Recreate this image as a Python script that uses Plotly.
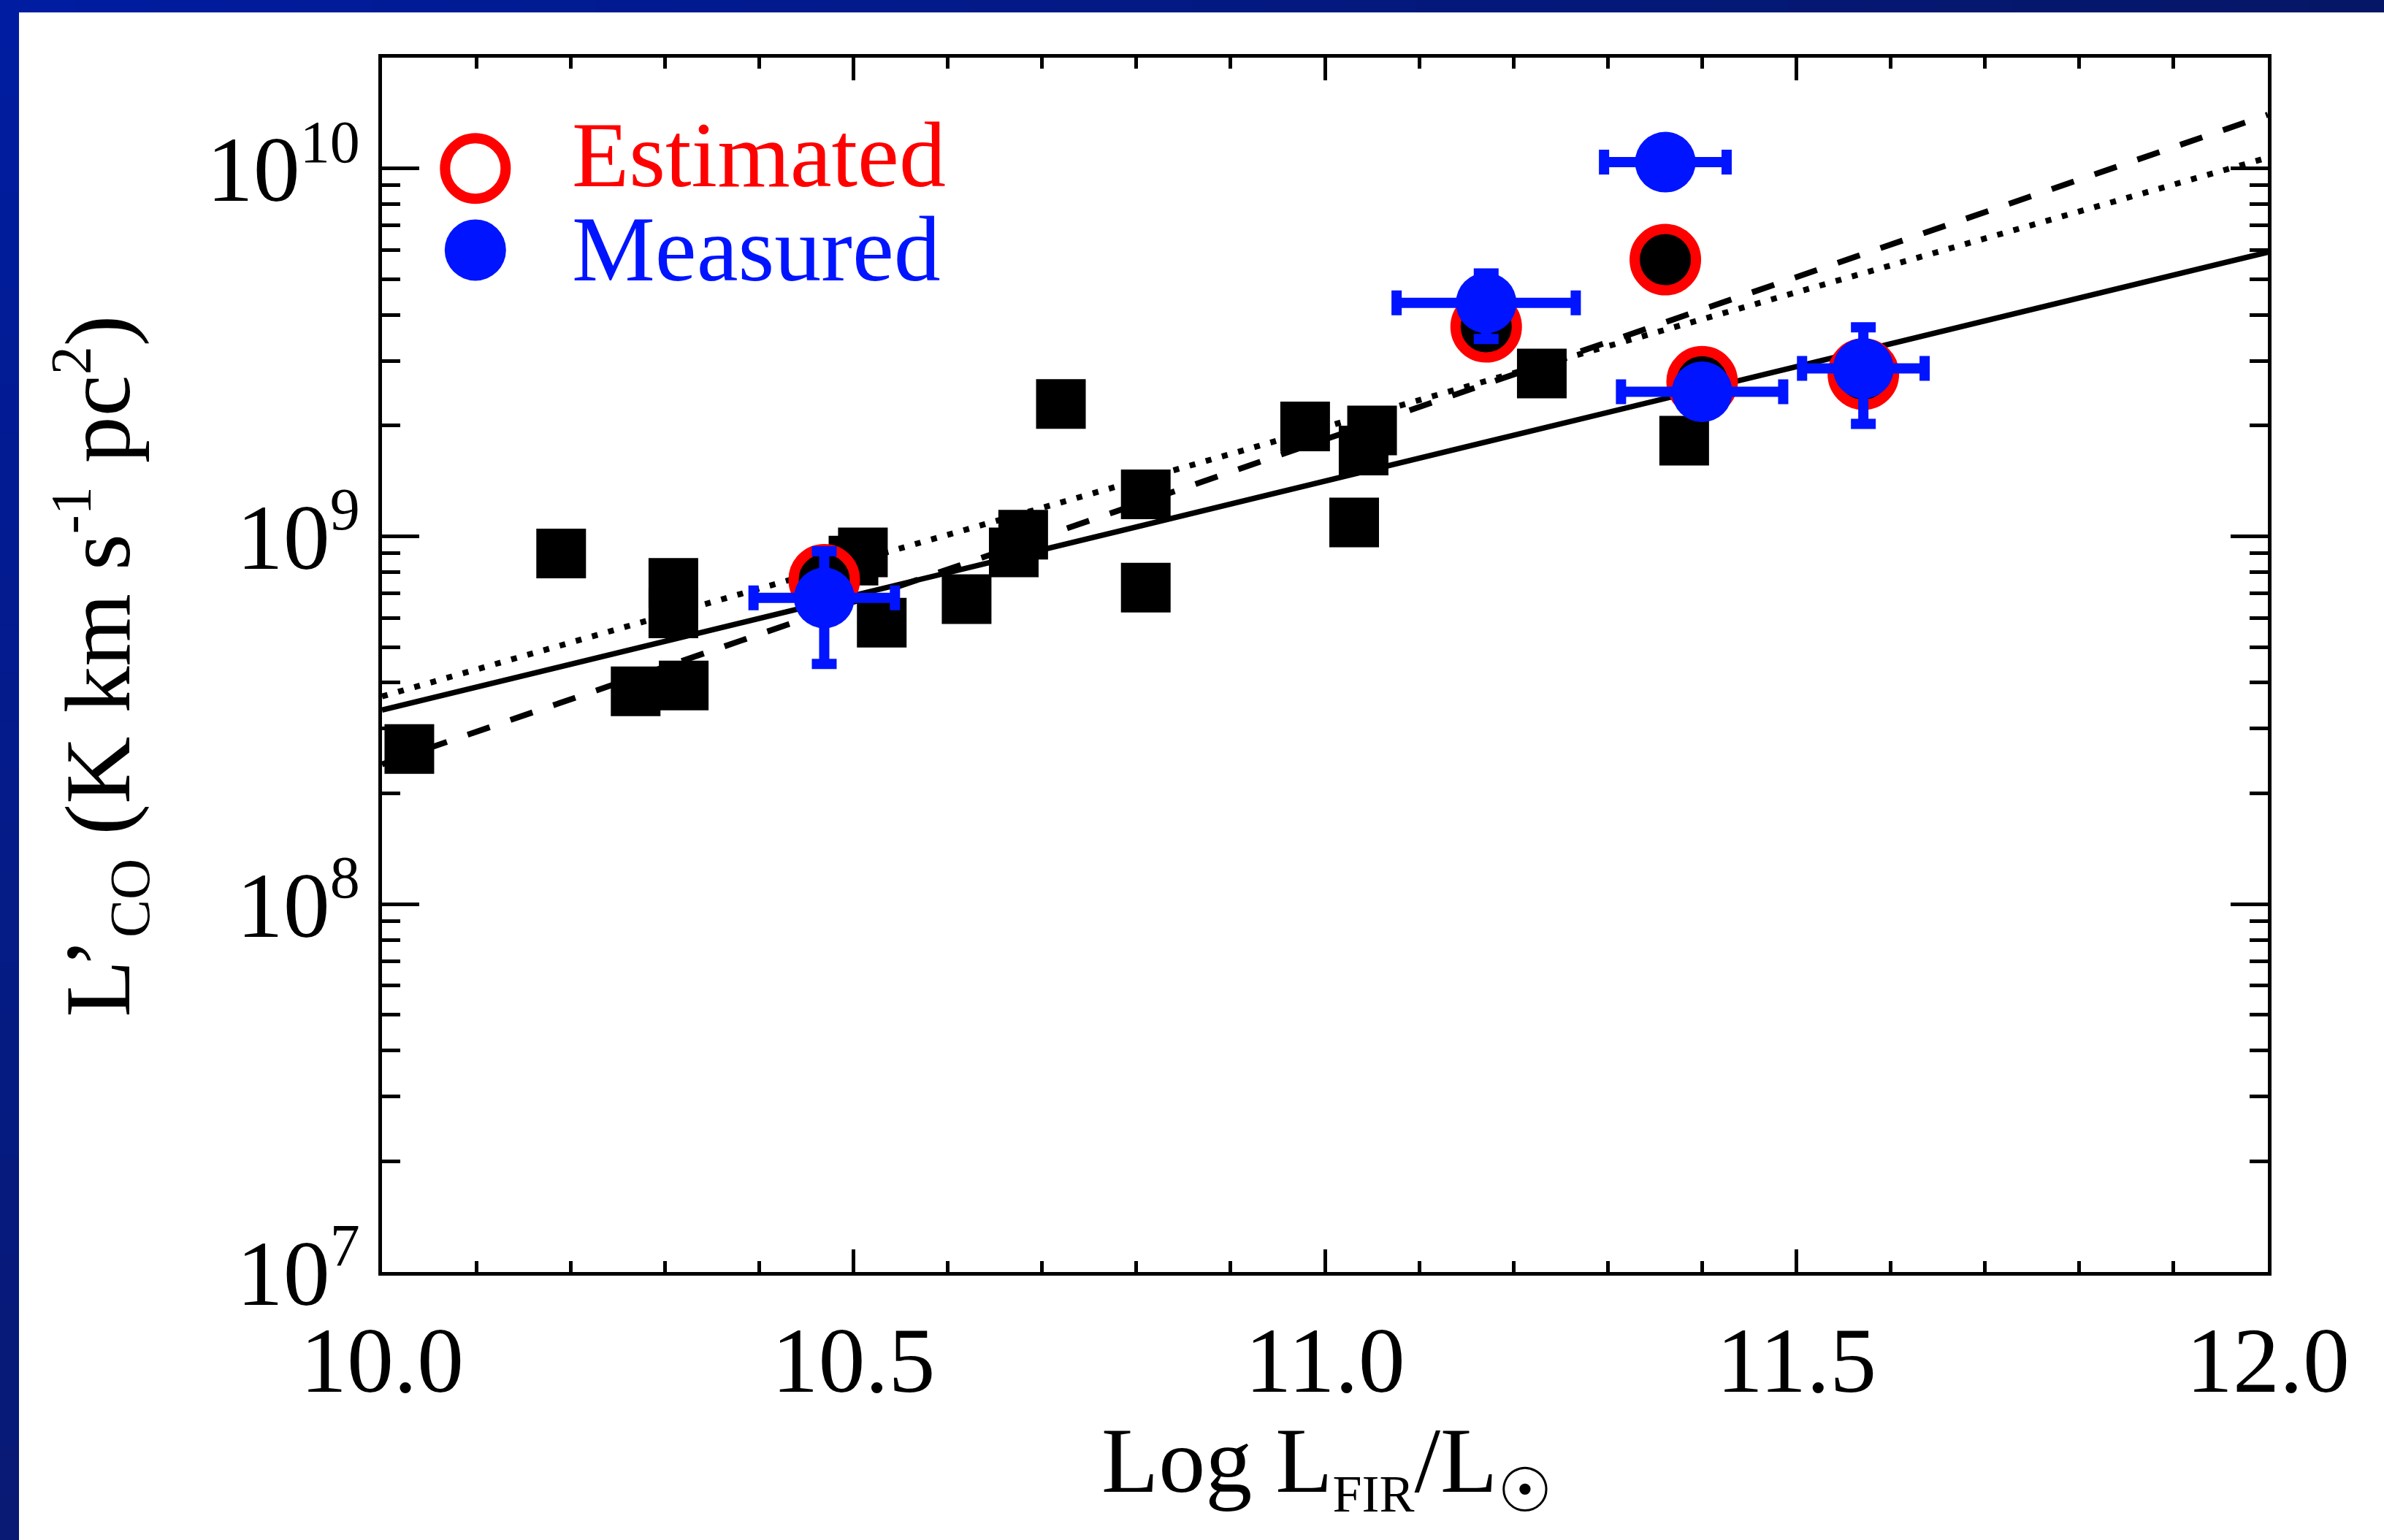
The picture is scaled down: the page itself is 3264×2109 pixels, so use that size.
import plotly.graph_objects as go

# ---------------- data ----------------
# Comparison sample: log L_FIR and L'_CO (filled black squares)
sample_logfir = [10.029, 10.190, 10.269, 10.309, 10.309, 10.320, 10.500, 10.510,
                 10.530, 10.620, 10.670, 10.680, 10.720, 10.810, 10.810, 10.979,
                 11.031, 11.041, 11.050, 11.230, 11.381]
sample_lco = [2.64e8, 8.98e8, 3.79e8, 7.47e8, 6.17e8, 3.93e8, 8.59e8, 9.04e8,
              5.82e8, 6.75e8, 9.04e8, 1.01e9, 2.29e9, 1.30e9, 7.25e8, 1.99e9,
              1.09e9, 1.71e9, 1.94e9, 2.77e9, 1.82e9]

# Target galaxies: L'_CO estimated from the relation (red rings, black fill)
est_logfir = [10.469, 11.171, 11.361, 11.400, 11.571]
est_lco = [7.62e8, 3.71e9, 5.65e9, 2.63e9, 2.76e9]

# Same galaxies with measured L'_CO (blue points with errors)
meas_logfir = [10.469, 11.171, 11.361, 11.400, 11.571]
meas_lco = [6.80e8, 4.31e9, 1.04e10, 2.47e9, 2.86e9]
meas_logfir_err = [0.075, 0.095, 0.065, 0.086, 0.065]
meas_lco_err = [2.3e8, 8.7e8, 0.0, 0.0, 8.4e8]

# Fitted relations evaluated at the ends of the x range
fit_logfir = [10.0, 12.0]
fit_solid = [3.37e8, 5.92e9]
fit_dashed = [2.40e8, 1.40e10]
fit_dotted = [3.67e8, 1.07e10]

# Axis ticks
x_tickvals = [10.0, 10.5, 11.0, 11.5, 12.0]
x_ticktext = ["10.0", "10.5", "11.0", "11.5", "12.0"]
x_minor = [round(10.0 + 0.1 * i, 1) for i in range(21) if i % 5]
y_tickvals = [1e7, 1e8, 1e9, 1e10]
y_ticktext = ["10<sup><span style='font-size:82px'>%d</span></sup>" % e for e in (7, 8, 9, 10)]
y_minor = [k * 10 ** d for d in (7, 8, 9, 10) for k in range(2, 10) if k * 10 ** d < 2e10]

legend_labels = ["Estimated", "Measured"]

# ---------------- style ----------------
FONT = "Liberation Serif"
FS = 128
RED = "#FF0000"
BLUE = "#0014FF"
W, H = 3264, 2109
ML, MR, MT, MB = 523, 159, 79, 367
PW, PH = W - ML - MR, H - MT - MB


def px(x):
    return (x - ML) / PW


def py(y):
    return 1 - (y - MT) / PH


fig = go.Figure()

# fitted relations
fig.add_trace(go.Scatter(x=fit_logfir, y=fit_solid, mode="lines",
                         line=dict(color="black", width=7.5), showlegend=False))
fig.add_trace(go.Scatter(x=fit_logfir, y=fit_dashed, mode="lines",
                         line=dict(color="black", width=8, dash="32px,30px"), showlegend=False))
fig.add_trace(go.Scatter(x=fit_logfir, y=fit_dotted, mode="lines",
                         line=dict(color="black", width=8, dash="8px,15px"), showlegend=False))

# comparison sample
fig.add_trace(go.Scatter(x=sample_logfir, y=sample_lco, mode="markers",
                         marker=dict(symbol="square", size=68, color="black", line=dict(width=0)),
                         showlegend=False))

# estimated values: black disc inside a red ring
fig.add_trace(go.Scatter(x=est_logfir, y=est_lco, mode="markers",
                         marker=dict(symbol="circle", size=72, color="black", line=dict(width=0)),
                         showlegend=False))
fig.add_trace(go.Scatter(x=est_logfir, y=est_lco, mode="markers",
                         marker=dict(symbol="circle", size=84, color="rgba(0,0,0,0)",
                                     line=dict(color=RED, width=14)),
                         showlegend=False))

# measured values with error bars
fig.add_trace(go.Scatter(x=meas_logfir, y=meas_lco, mode="markers",
                         marker=dict(symbol="circle", size=83, color=BLUE, line=dict(width=0)),
                         error_x=dict(type="data", array=meas_logfir_err, color=BLUE,
                                      thickness=14, width=17),
                         error_y=dict(type="data", array=meas_lco_err, color=BLUE,
                                      thickness=14, width=17),
                         showlegend=False))

# legend symbols
LEG_X = [10.099, 10.099]
LEG_Y = [1.0e10, 6.0e9]
fig.add_trace(go.Scatter(x=LEG_X[:1], y=LEG_Y[:1], mode="markers",
                         marker=dict(symbol="circle", size=83, color="rgba(0,0,0,0)",
                                     line=dict(color=RED, width=14)),
                         showlegend=False))
fig.add_trace(go.Scatter(x=LEG_X[1:], y=LEG_Y[1:], mode="markers",
                         marker=dict(symbol="circle", size=84, color=BLUE, line=dict(width=0)),
                         showlegend=False))

annotations = [
    dict(text=legend_labels[0], x=px(781), y=py(139), xref="paper", yref="paper",
         xanchor="left", yanchor="top", showarrow=False,
         font=dict(family=FONT, size=FS, color=RED)),
    dict(text=legend_labels[1], x=px(781), y=py(268), xref="paper", yref="paper",
         xanchor="left", yanchor="top", showarrow=False,
         font=dict(family=FONT, size=FS, color=BLUE)),
    dict(text="Log L<sub><span style='font-size:72px'>FIR</span></sub>/L"
              "<sub><b><span style='font-size:84px;font-family:DejaVu Sans'>☉</span></b></sub>",
         x=px(1816), y=py(1927), xref="paper", yref="paper",
         xanchor="center", yanchor="top", showarrow=False,
         font=dict(family=FONT, size=FS, color="black")),
    dict(text="L’<sub><span style='font-size:78px'>CO</span></sub> (K km s"
              "<sup><span style='font-size:78px'>-1</span></sup> pc"
              "<sup><span style='font-size:78px'>2</span></sup>)",
         x=px(137), y=py(913), xref="paper", yref="paper", textangle=-90,
         xanchor="center", yanchor="middle", showarrow=False,
         font=dict(family=FONT, size=FS, color="black")),
]


# slide frame (blue gradient bands along the top and left edges)
def mix(c1, c2, t):
    return "rgb(%d,%d,%d)" % tuple(round(a + (b - a) * t) for a, b in zip(c1, c2))


shapes = []
N = 32
for i in range(N):
    t = i / (N - 1)
    shapes.append(dict(type="rect", xref="paper", yref="paper", layer="above",
                       x0=px(W * i / N), x1=px(W * (i + 1) / N + 1), y0=py(0), y1=py(17),
                       fillcolor=mix((0, 28, 160), (6, 22, 102), t), line=dict(width=0)))
    shapes.append(dict(type="rect", xref="paper", yref="paper", layer="above",
                       x0=px(0), x1=px(26), y0=py(H * i / N), y1=py(H * (i + 1) / N + 1),
                       fillcolor=mix((0, 28, 160), (8, 26, 116), t), line=dict(width=0)))

axis_common = dict(showline=True, linecolor="black", linewidth=4.5, mirror="allticks",
                   ticks="inside", tickcolor="black", tickwidth=4.5,
                   showgrid=False, zeroline=False,
                   tickfont=dict(family=FONT, size=FS, color="black"))

fig.update_layout(
    width=W, height=H,
    margin=dict(l=ML, r=MR, t=MT, b=MB),
    paper_bgcolor="white", plot_bgcolor="white",
    showlegend=False,
    xaxis=dict(range=[10.0, 12.0], tickvals=x_tickvals, ticktext=x_ticktext,
               ticklen=31, ticklabelstandoff=6,
               minor=dict(tickvals=x_minor, ticks="inside", ticklen=15,
                          tickwidth=4.5, tickcolor="black", showgrid=False),
               **axis_common),
    yaxis=dict(type="log", range=[7, 10.30103], tickvals=y_tickvals, ticktext=y_ticktext,
               ticklen=51, ticklabelstandoff=0,
               minor=dict(tickvals=y_minor, ticks="inside", ticklen=25,
                          tickwidth=4.5, tickcolor="black", showgrid=False),
               **axis_common),
    annotations=annotations,
    shapes=shapes,
)

fig.write_html("out.html")
